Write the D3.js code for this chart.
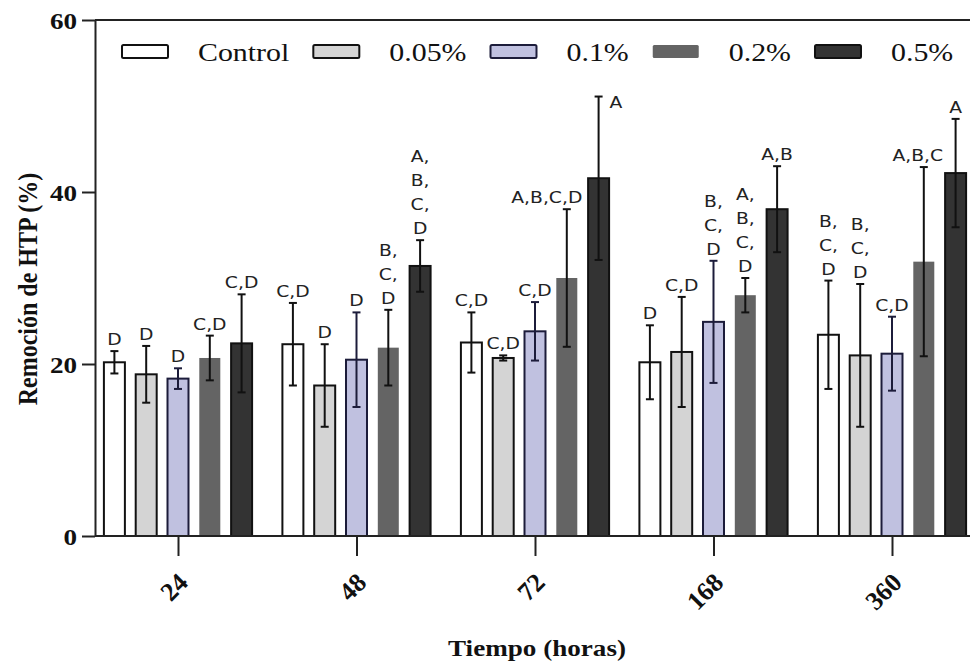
<!DOCTYPE html>
<html>
<head>
<meta charset="utf-8">
<script src="https://cdn.jsdelivr.net/npm/d3@7"></script>
<style>
  html, body { margin: 0; padding: 0; background: #fff; }
  svg { display: block; }
</style>
</head>
<body>
<script>
// Sampling times (hours) and treatments
const groups = ["24", "48", "72", "168", "360"];
const series = ["Control", "0.05%", "0.1%", "0.2%", "0.5%"];

// Mean HTP removal (%) per treatment, one value per sampling time
const meanControl = [20.2, 22.3, 22.5, 20.2, 23.4];
const mean005     = [18.8, 17.5, 20.7, 21.4, 21.0];
const mean01      = [18.3, 20.5, 23.8, 24.9, 21.2];
const mean02      = [20.7, 21.9, 30.0, 28.0, 31.9];
const mean05      = [22.4, 31.4, 41.6, 38.0, 42.2];

// Standard deviations (error bars)
const sdControl = [1.3, 4.8, 3.5, 4.3, 6.3];
const sd005     = [3.3, 4.8, 0.3, 6.4, 8.3];
const sd01      = [1.2, 5.5, 3.4, 7.1, 4.3];
const sd02      = [2.6, 4.4, 8.0, 2.0, 11.0];
const sd05      = [5.7, 3.0, 9.5, 5.0, 6.3];

// Significance letters (each entry is a list of stacked lines)
const letControl = [["D"], ["C,D"], ["C,D"], ["D"], ["B,", "C,", "D"]];
const let005     = [["D"], ["D"], ["C,D"], ["C,D"], ["B,", "C,", "D"]];
const let01      = [["D"], ["D"], ["C,D"], ["B,", "C,", "D"], ["C,D"]];
const let02      = [["C,D"], ["B,", "C,", "D"], ["A,B,C,D"], ["A,", "B,", "C,", "D"], ["A,B,C"]];
const let05      = [["C,D"], ["A,", "B,", "C,", "D"], ["A"], ["A,B"], ["A"]];

const yTicks = [0, 20, 40, 60];

const means   = [meanControl, mean005, mean01, mean02, mean05];
const sds     = [sdControl, sd005, sd01, sd02, sd05];
const letters = [letControl, let005, let01, let02, let05];

// Styling per treatment
const fills   = ["#ffffff", "#d4d4d4", "#c0c1e0", "#646464", "#333333"];
const strokes = ["#111111", "#111111", "#1c1c3a", "none", "#111111"];
const errCols = ["#111111", "#111111", "#1c1c3a", "#111111", "#111111"];

const W = 970, H = 662;
const plotLeft = 95, plotTop = 20, plotBottom = 536, plotRight = 970;
const serif = "'Liberation Serif', 'Times New Roman', serif";

const svg = d3.select("body").append("svg")
  .attr("width", W).attr("height", H);

svg.append("rect").attr("width", W).attr("height", H).attr("fill", "#fff");

const y = d3.scaleLinear().domain([0, 60]).range([plotBottom, plotTop]);
const x0 = d3.scalePoint().domain(groups).range([178, 892]);
const x1 = d3.scaleBand().domain(series).range([-79.5, 79.5])
  .paddingInner(0.34).paddingOuter(0.17);

// Flattened records
const recs = [];
series.forEach((s, si) => {
  groups.forEach((g, gi) => {
    recs.push({ g, s, si, mean: means[si][gi], sd: sds[si][gi], lab: letters[si][gi] });
  });
});

const cx = d => x0(d.g) + x1(d.s) + x1.bandwidth() / 2;

// Bars
svg.append("g").selectAll("rect").data(recs).join("rect")
  .attr("x", d => x0(d.g) + x1(d.s))
  .attr("y", d => y(d.mean))
  .attr("width", x1.bandwidth())
  .attr("height", d => y(0) - y(d.mean))
  .attr("fill", d => fills[d.si])
  .attr("stroke", d => strokes[d.si])
  .attr("stroke-width", 2);

// Error bars
const cap = 4;
const eb = svg.append("g").attr("fill", "none").attr("stroke-width", 2);
recs.forEach(d => {
  const c = cx(d), t = y(d.mean + d.sd), b = y(d.mean - d.sd);
  const col = errCols[d.si];
  eb.append("line").attr("x1", c).attr("x2", c).attr("y1", t).attr("y2", b).attr("stroke", col);
  eb.append("line").attr("x1", c - cap).attr("x2", c + cap).attr("y1", t).attr("y2", t).attr("stroke", col);
  eb.append("line").attr("x1", c - cap).attr("x2", c + cap).attr("y1", b).attr("y2", b).attr("stroke", col);
});

// Significance letters above the error bars
const lineH = 24, kLab = 1.25;
const labG = svg.append("g")
  .attr("font-family", "'DejaVu Sans', Verdana, sans-serif")
  .attr("font-size", 15).attr("fill", "#222");
recs.forEach(d => {
  const key = d.g + "|" + d.s;
  const t = y(d.mean + d.sd);
  if (key === "72|0.5%") {
    // single letter set beside the cap of the tallest error bar
    labG.append("text")
      .attr("transform", `translate(${cx(d) + 11},${t + 11}) scale(${kLab},1)`)
      .attr("text-anchor", "start").text(d.lab[0]);
    return;
  }
  const dx = key === "72|0.2%" ? -20 : (key === "360|0.2%" ? -6 : 0);
  const n = d.lab.length;
  d.lab.forEach((ln, i) => {
    const by = t - 6 - (n - 1 - i) * lineH;
    labG.append("text")
      .attr("transform", `translate(${cx(d) + dx},${by}) scale(${kLab},1)`)
      .attr("text-anchor", "middle").text(ln);
  });
});

// Frame: top line and baseline
svg.append("line").attr("x1", plotLeft).attr("x2", plotRight).attr("y1", plotTop).attr("y2", plotTop)
  .attr("stroke", "#222").attr("stroke-width", 2);
svg.append("line").attr("x1", plotLeft).attr("x2", plotRight).attr("y1", plotBottom).attr("y2", plotBottom)
  .attr("stroke", "#222").attr("stroke-width", 2);

// Y axis
const yAx = svg.append("g").attr("transform", `translate(${plotLeft},0)`)
  .call(d3.axisLeft(y).tickValues(yTicks).tickSize(13).tickPadding(5).tickSizeOuter(0));
yAx.select(".domain").attr("stroke", "#222").attr("stroke-width", 2);
yAx.selectAll(".tick line").attr("stroke", "#222").attr("stroke-width", 2);
yAx.selectAll(".tick text")
  .attr("x", null).attr("dy", "0.34em")
  .attr("transform", "translate(-18,0) scale(1.13,1)")
  .attr("text-anchor", "end")
  .attr("fill", "#111")
  .attr("font-family", serif)
  .attr("font-weight", "bold").attr("font-size", 24);

// X axis (ticks and rotated labels)
const xAx = svg.append("g").attr("transform", `translate(0,${plotBottom})`)
  .call(d3.axisBottom(x0).tickSize(20).tickSizeOuter(0));
xAx.select(".domain").remove();
xAx.selectAll(".tick line").attr("stroke", "#222").attr("stroke-width", 2);
xAx.selectAll(".tick text")
  .attr("y", null).attr("x", null).attr("dy", null)
  .attr("transform", "translate(11,48) rotate(-45)")
  .attr("text-anchor", "end")
  .attr("fill", "#111")
  .attr("font-family", serif)
  .attr("font-weight", "bold").attr("font-size", 26);

// Axis titles
svg.append("text")
  .attr("transform", "translate(537,656) scale(1.13,1)")
  .attr("text-anchor", "middle")
  .attr("font-family", serif)
  .attr("font-weight", "bold").attr("font-size", 24).attr("fill", "#111")
  .text("Tiempo (horas)");

svg.append("text")
  .attr("transform", "translate(37,289) rotate(-90) scale(1,1.13)")
  .attr("text-anchor", "middle")
  .attr("font-family", serif)
  .attr("font-weight", "bold").attr("font-size", 24).attr("fill", "#111")
  .text("Remoción de HTP (%)");

// Legend
const leg = svg.append("g");
let lx = 122;
series.forEach((s, si) => {
  leg.append("rect")
    .attr("x", lx).attr("y", 45).attr("width", 46).attr("height", 13).attr("rx", 1.5)
    .attr("fill", fills[si])
    .attr("stroke", strokes[si]).attr("stroke-width", 2);
  const tx = lx + 46 + 30;
  const t = leg.append("text")
    .attr("transform", `translate(${tx},61) scale(1.15,1)`)
    .attr("font-family", serif)
    .attr("font-size", 26).attr("fill", "#111")
    .text(s);
  lx = tx + t.node().getComputedTextLength() * 1.15 + 24;
});
</script>
</body>
</html>
